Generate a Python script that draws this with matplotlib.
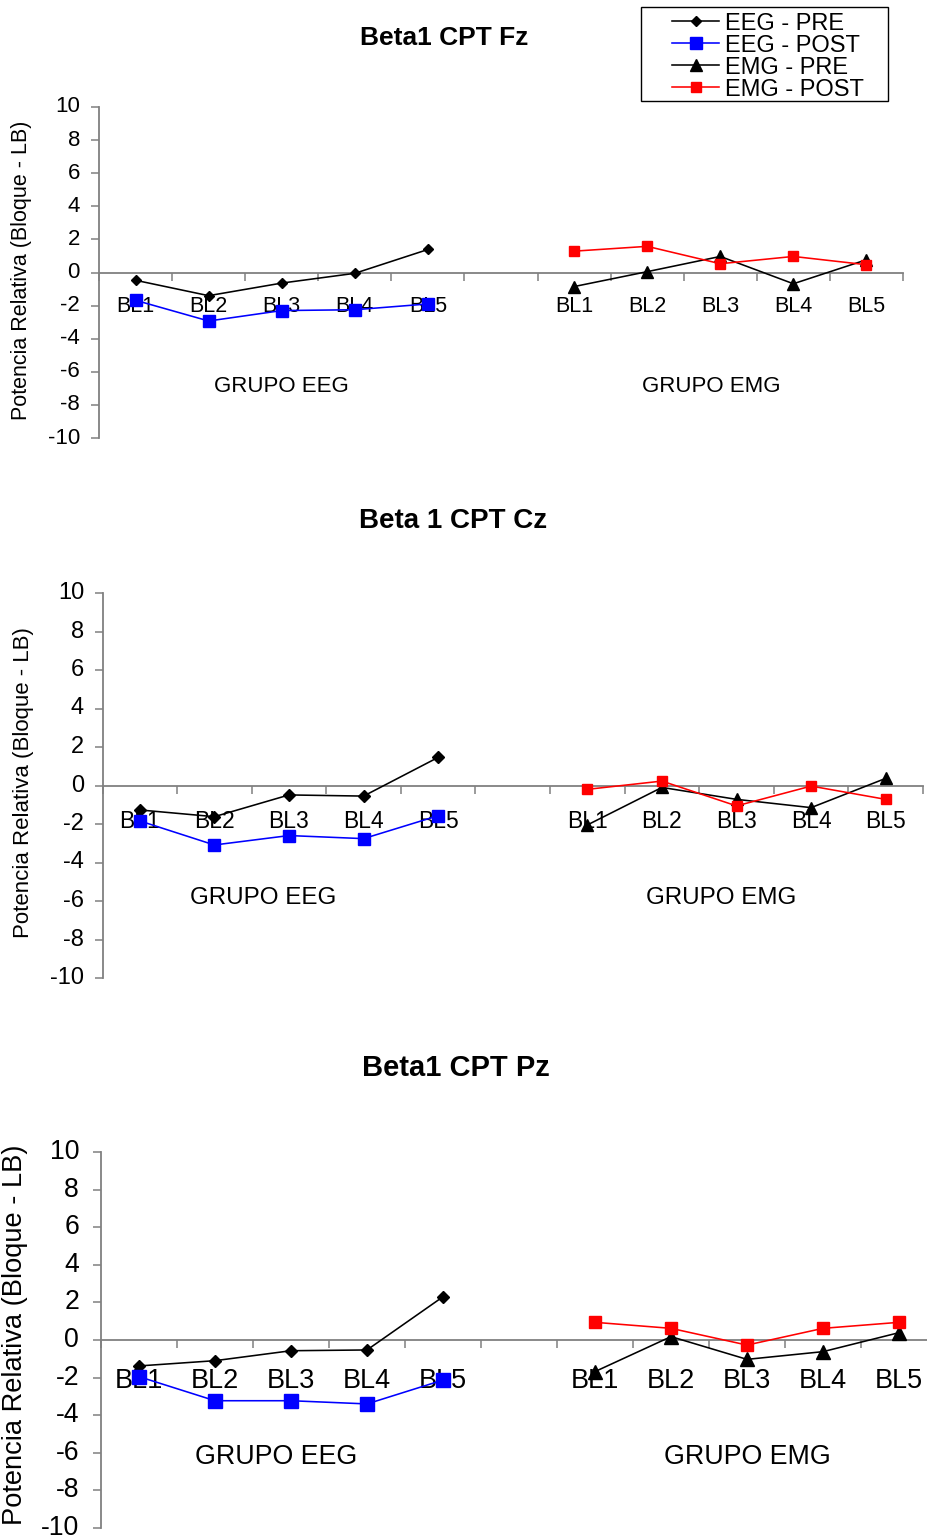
import numpy as np
import matplotlib
matplotlib.use("Agg")
import matplotlib.pyplot as plt
from matplotlib.patches import Rectangle

plt.rcParams['font.family'] = ['Liberation Sans', 'DejaVu Sans']
plt.rcParams['axes.unicode_minus'] = False

OUT_FILE = "out.png"
FIG_W, FIG_H = 927, 1539

# Five blocks per group, with an empty slot between the two groups
blocks = ["BL1", "BL2", "BL3", "BL4", "BL5"]
tick_labels = blocks + [""] + blocks
groups = ["GRUPO EEG", "GRUPO EMG"]
series_names = ["EEG - PRE", "EEG - POST", "EMG - PRE", "EMG - POST"]
titles = ["Beta1 CPT Fz", "Beta 1 CPT Cz", "Beta1 CPT Pz"]
ylabel = "Potencia Relativa (Bloque - LB)"

# Relative power (block - baseline) per electrode
fz_eeg_pre = [-0.47, -1.40, -0.64, -0.05, 1.39]
fz_eeg_post = [-1.68, -2.93, -2.30, -2.25, -1.90]
fz_emg_pre = [-0.85, 0.05, 0.97, -0.68, 0.77]
fz_emg_post = [1.29, 1.58, 0.53, 0.97, 0.47]

cz_eeg_pre = [-1.27, -1.62, -0.49, -0.55, 1.46]
cz_eeg_post = [-1.84, -3.09, -2.60, -2.76, -1.57]
cz_emg_pre = [-2.05, -0.10, -0.72, -1.15, 0.37]
cz_emg_post = [-0.20, 0.23, -1.06, -0.03, -0.72]

pz_eeg_pre = [-1.38, -1.10, -0.57, -0.53, 2.30]
pz_eeg_post = [-1.95, -3.23, -3.23, -3.40, -2.13]
pz_emg_pre = [-1.68, 0.18, -1.03, -0.62, 0.39]
pz_emg_post = [0.94, 0.62, -0.27, 0.62, 0.94]

# line/marker style per series (EEG pre, EEG post, EMG pre, EMG post)
STYLES = [
    dict(color="black", marker="D", ms=5.3, lw=1.15),
    dict(color="#0000FF", marker="s", ms=8.0, lw=1.15),
    dict(color="black", marker="^", ms=8.0, lw=1.15),
    dict(color="#FF0000", marker="s", ms=6.8, lw=1.15),
]
AXIS_GRAY = "#808080"

# panel boxes in pixels (left, right, top, bottom) and text settings
PANELS = [
    dict(box=(99, 903, 107, 438), fs=15.5, yfs=16, labfs=15.5, grpfs=16,
         ylab_x=32, ylab_y=0.508, grp_xy=[(2.0, -6.9), (7.87, -6.9)],
         ms_scale=1.0, xpad=17.0, ypad=7.9, title_xy=(444, 38), title_fs=19),
    dict(box=(102.5, 923, 593, 978), fs=16.5, yfs=17, labfs=16, grpfs=17.4,
         ylab_x=34.5, ylab_y=0.508, grp_xy=[(1.66, -5.84), (7.80, -5.84)],
         ms_scale=1.08, xpad=17.5, ypad=7.5, title_xy=(453, 521), title_fs=20),
    dict(box=(101, 937, 1152, 1528), fs=19.5, yfs=19.2, labfs=19.6, grpfs=19.3,
         ylab_x=28, ylab_y=0.515, grp_xy=[(1.80, -6.2), (8.01, -6.2)],
         ms_scale=1.2, xpad=20.5, ypad=10, title_xy=(456, 1068), title_fs=21),
]


def draw_panel(fig, cfg, data, title):
    left, right, top, bottom = cfg['box']
    ax = fig.add_axes([left / FIG_W, 1 - bottom / FIG_H,
                       (right - left) / FIG_W, (bottom - top) / FIG_H])
    ax.patch.set_alpha(0)

    eeg_x = np.arange(5)
    emg_x = np.arange(6, 11)
    xs = [eeg_x, eeg_x, emg_x, emg_x]
    handles = []
    for x, y, st in zip(xs, data, STYLES):
        h, = ax.plot(x, y, color=st['color'], marker=st['marker'],
                     markersize=st['ms'] * cfg['ms_scale'],
                     markeredgecolor=st['color'], markerfacecolor=st['color'],
                     linewidth=st['lw'], zorder=3, clip_on=False)
        handles.append(h)

    ax.set_xlim(-0.5, 10.5)
    ax.set_ylim(-10, 10)

    for side in ['top', 'right']:
        ax.spines[side].set_visible(False)
    ax.spines['bottom'].set_position(('data', 0))
    for side in ['bottom', 'left']:
        ax.spines[side].set_color(AXIS_GRAY)
        ax.spines[side].set_linewidth(1.3)

    # slot boundaries get tick marks, slot centres get the block names
    ax.set_xticks(np.arange(-0.5, 11, 1))
    ax.set_xticklabels([])
    ax.set_xticks(np.arange(11), minor=True)
    ax.set_xticklabels(tick_labels, minor=True)
    ax.tick_params(axis='x', which='major', direction='out', length=5.8,
                   width=1.1, color=AXIS_GRAY)
    ax.tick_params(axis='x', which='minor', length=0, pad=cfg['xpad'],
                   labelsize=cfg['fs'])

    ax.set_yticks(np.arange(-10, 11, 2))
    ax.tick_params(axis='y', direction='out', length=5.8, width=1.1,
                   color=AXIS_GRAY, pad=cfg['ypad'], labelsize=cfg['yfs'])
    for lab in ax.get_yticklabels():
        lab.set_verticalalignment('center')

    # label anchored by its right-hand (descender) edge
    ax.set_ylabel(ylabel, fontsize=cfg['labfs'])
    ax.yaxis.set_label_coords((cfg['ylab_x'] - left) / (right - left),
                              cfg['ylab_y'])

    for name, (gx, gy) in zip(groups, cfg['grp_xy']):
        ax.text(gx, gy, name, ha='center', va='center', fontsize=cfg['grpfs'])

    tx, ty = cfg['title_xy']
    fig.text(tx / FIG_W, 1 - ty / FIG_H, title, ha='center', va='center',
             fontsize=cfg['title_fs'], fontweight='bold')
    return handles


def main():
    fig = plt.figure(figsize=(FIG_W / 100, FIG_H / 100), dpi=100)

    all_data = [
        [fz_eeg_pre, fz_eeg_post, fz_emg_pre, fz_emg_post],
        [cz_eeg_pre, cz_eeg_post, cz_emg_pre, cz_emg_post],
        [pz_eeg_pre, pz_eeg_post, pz_emg_pre, pz_emg_post],
    ]
    handles = None
    for cfg, data, title in zip(PANELS, all_data, titles):
        h = draw_panel(fig, cfg, data, title)
        if handles is None:
            handles = h

    # legend entries without frame, box drawn separately
    fig.legend(handles, series_names, loc='upper left',
               bbox_to_anchor=(672 / FIG_W, 1 - 12.5 / FIG_H),
               frameon=False, fontsize=17, handlelength=2.0,
               handletextpad=0.25, labelspacing=0.0, borderpad=0,
               borderaxespad=0)
    fig.add_artist(Rectangle((641 / FIG_W, 1 - 101 / FIG_H), 247 / FIG_W,
                             94 / FIG_H, transform=fig.transFigure,
                             fill=False, edgecolor='black', linewidth=1.0))

    fig.savefig(OUT_FILE, dpi=100)
    plt.close(fig)


if __name__ == "__main__":
    main()
